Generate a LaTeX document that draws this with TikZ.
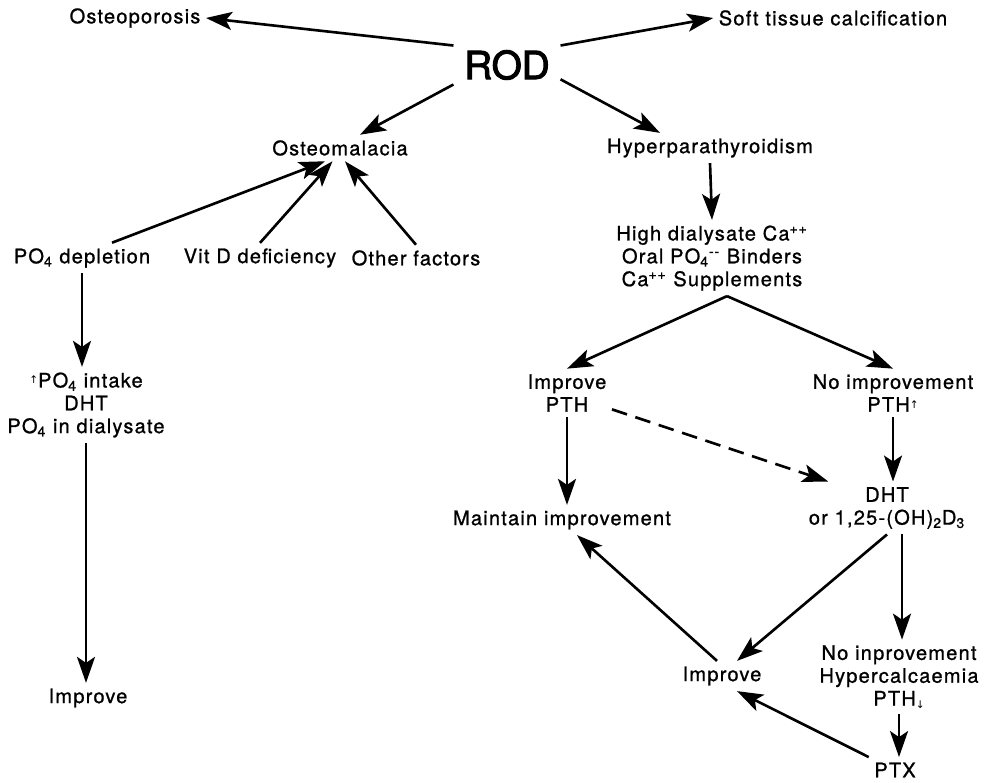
\documentclass[tikz,border=0pt]{standalone}
\usepackage{fontspec}
\setmainfont[LetterSpace=6, FakeBold=1]{TeX Gyre Heros}
\newfontfamily\rodfont[FakeBold=2.5]{TeX Gyre Heros}
\newfontfamily\arrowfont{DejaVu Sans}
\usetikzlibrary{arrows.meta, positioning, calc}

\newcommand{\POf}{PO\textsubscript{4}}
\newcommand{\upar}{\raisebox{0.35ex}{\arrowfont\fontsize{6}{6}\selectfont ↑}}
\newcommand{\downar}{\raisebox{-0.3ex}{\arrowfont\fontsize{6}{6}\selectfont ↓}}

\begin{document}
\begin{tikzpicture}[x=0.02cm, y=-0.02cm,
  txt/.style={font=\fontsize{11.4}{13}\selectfont, align=center, inner sep=3pt},
  arr/.style={-{Stealth[length=5.2mm, width=3.6mm, inset=1.2mm]}, line width=1.5pt},
  dasharr/.style={arr, dash pattern=on 9pt off 5pt}]

  \useasboundingbox (0,0) rectangle (996,783);

  % ===== top: ROD and its four branches =====
  \node[font=\rodfont\fontsize{22}{24}\selectfont, inner sep=6pt] (rod) at (507,65) {ROD};
  \node[txt] (osteop) at (135,18) {Osteoporosis};
  \node[txt] (soft) at (833,18) {Soft tissue calcification};
  \node[txt] (osteom) at (340,148) {Osteomalacia};
  \node[txt] (hyper) at (710,148) {Hyperparathyroidism};

  \draw[arr] (rod.160) -- (osteop.east);
  \draw[arr] (rod.20) -- (soft.west);
  \draw[arr] (rod.200) -- ([xshift=0.4cm]osteom.north);
  \draw[arr] (rod.-15) -- ([xshift=-1cm]hyper.north);

  % ===== left: causes of osteomalacia =====
  \node[txt] (po4dep) at (82,258) {\POf{} depletion};
  \node[txt] (vitd) at (260,258) {Vit D deficiency};
  \node[txt] (other) at (416,258) {Other factors};

  \draw[arr] ([xshift=0.6cm]po4dep.north) -- ([xshift=-0.3cm]osteom.south);
  \draw[arr] (vitd.north) -- ([xshift=-0.15cm]osteom.south);
  \draw[arr] (other.north) -- ([xshift=0.1cm]osteom.south);

  % PO4 treatment
  \node[txt] (po4int) at (86,405) {\upar\POf{} intake\\DHT\\\POf{} in dialysate};
  \node[txt] (impL) at (88,698) {Improve};

  \draw[arr] (po4dep.south) -- (po4dep.south |- po4int.north);
  \draw[arr] (po4int.south) -- (po4int.south |- impL.north);

  % ===== right: hyperparathyroidism =====
  \node[txt] (treat) at (712,258) {High dialysate Ca\textsuperscript{++}\\Oral \POf\textsuperscript{-{}-} Binders\\Ca\textsuperscript{++} Supplements};
  \node[txt] (impPTH) at (567,393) {Improve\\PTH};
  \node[txt] (noimp) at (893,393) {No improvement\\PTH\upar};
  \node[txt] (maint) at (562,520) {Maintain improvement};
  \node[txt] (dht) at (887,508) {DHT\\or 1,25-(OH)\textsubscript{2}D\textsubscript{3}};
  \node[txt] (impM) at (722,676) {Improve};
  \node[txt] (noinp) at (899,677) {No inprovement\\Hypercalcaemia\\PTH\downar};
  \node[txt] (ptx) at (895,770) {PTX};

  \draw[arr] (hyper.south) -- (treat.north);
  \draw[arr] ([xshift=0.3cm]treat.south) -- (impPTH.north);
  \draw[arr] ([xshift=0.3cm]treat.south) -- (noimp.north);
  \draw[arr] (impPTH.south) -- (impPTH.south |- maint.north);
  \draw[dasharr] (impPTH.-20) -- ([xshift=0.5cm]dht.north west);
  \draw[arr] (noimp.south) -- (noimp.south |- dht.north);
  \draw[arr] (dht.south) -- ([xshift=0.3cm]impM.north);
  \draw[arr] ([xshift=0.3cm]dht.south) -- ([xshift=0.3cm]dht.south |- noinp.north);
  \draw[arr] ([xshift=-0.1cm]impM.north) -- ([xshift=0.3cm]maint.south);
  \draw[arr] (noinp.south) -- (noinp.south |- ptx.north);
  \draw[arr] (ptx.north west) -- ([xshift=0.3cm]impM.south);

\end{tikzpicture}
\end{document}
